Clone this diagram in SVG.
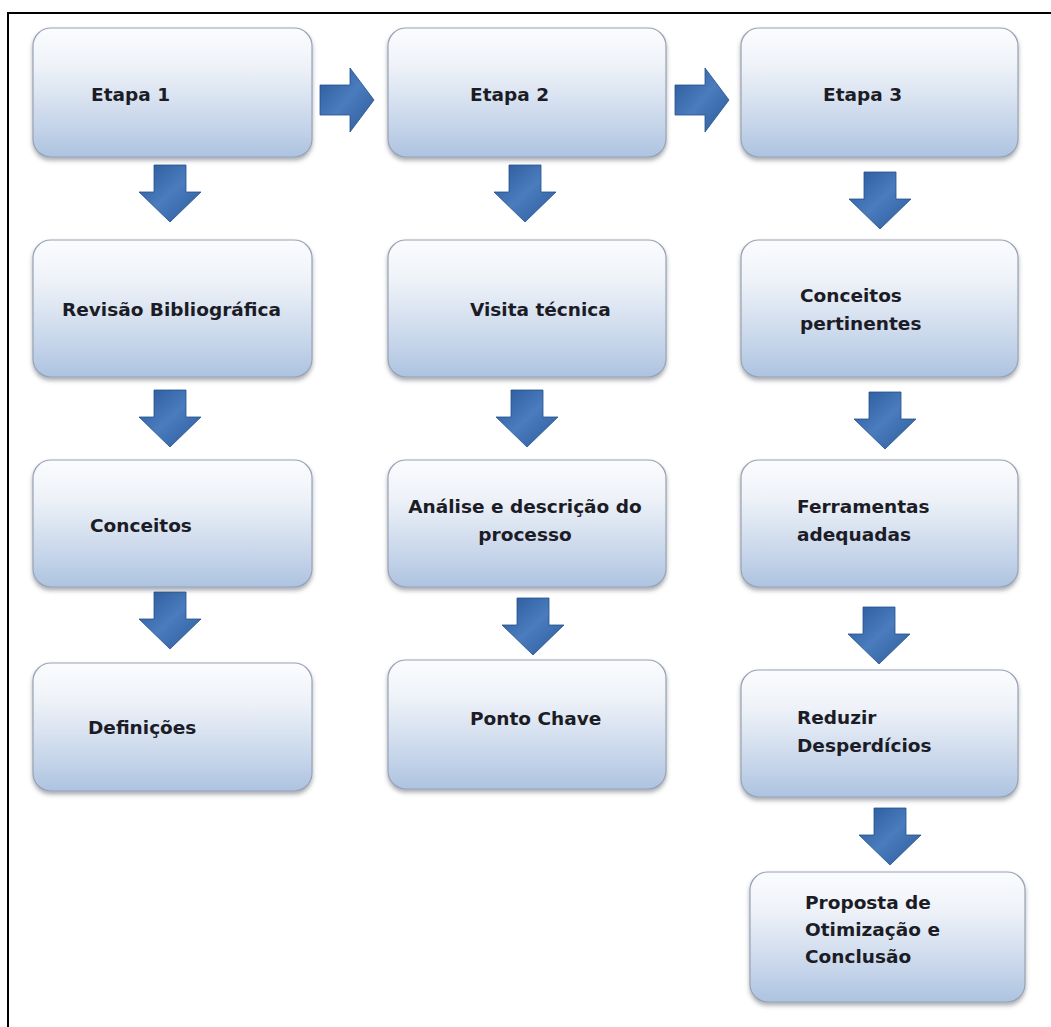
<svg xmlns="http://www.w3.org/2000/svg" width="1051" height="1027" viewBox="0 0 1051 1027">
<defs>
<linearGradient id="boxg" x1="0" y1="0" x2="0" y2="1">
<stop offset="0" stop-color="#fbfcfe"/>
<stop offset="0.3" stop-color="#eef2f8"/>
<stop offset="0.75" stop-color="#c6d5ea"/>
<stop offset="1" stop-color="#adc3e0"/>
</linearGradient>
<linearGradient id="arrg" x1="0" y1="0" x2="1" y2="1">
<stop offset="0" stop-color="#2a5898"/>
<stop offset="0.5" stop-color="#4a7cbe"/>
<stop offset="1" stop-color="#2c5a98"/>
</linearGradient>
<filter id="sh" x="-10%" y="-10%" width="120%" height="130%">
<feDropShadow dx="0" dy="3" stdDeviation="2" flood-color="#404858" flood-opacity="0.45"/>
</filter>
<path id="down" d="M-16 0 H16 V27 H31 L0 57 L-31 27 H-16 Z"/>
<path id="right" d="M0 -15 H30 V-32 L54 0 L30 32 V15 H0 Z"/>
</defs>
<style>
.box{fill:url(#boxg);stroke:#98a2b4;stroke-width:1.2;filter:url(#sh)}
.arr{fill:url(#arrg);stroke:#24508c;stroke-width:0.8}
text{font-family:"DejaVu Sans","Liberation Sans",sans-serif;font-weight:bold;font-size:18.5px;fill:#1c1c26}
.frame{fill:none;stroke:#000;stroke-width:2}
</style>
<rect width="1051" height="1027" fill="#fff"/>
<path class="frame" d="M8 1027 V13 H1051"/>

<g id="connectors">
<use href="#right" class="arr" x="320" y="100"/>
<use href="#right" class="arr" x="675" y="100"/>
<use href="#down" class="arr" x="170" y="165"/>
<use href="#down" class="arr" x="170" y="390"/>
<use href="#down" class="arr" x="170" y="592"/>
<use href="#down" class="arr" x="525" y="165"/>
<use href="#down" class="arr" x="527" y="390"/>
<use href="#down" class="arr" x="533" y="598"/>
<use href="#down" class="arr" x="880" y="172"/>
<use href="#down" class="arr" x="885" y="392"/>
<use href="#down" class="arr" x="879" y="607"/>
<use href="#down" class="arr" x="890" y="808"/>
</g>

<g id="etapa1"><rect class="box" x="33" y="28" width="279" height="129" rx="18"/><text x="91" y="101">Etapa 1</text></g>
<g id="etapa2"><rect class="box" x="388" y="28" width="278" height="129" rx="18"/><text x="470" y="101">Etapa 2</text></g>
<g id="etapa3"><rect class="box" x="741" y="28" width="277" height="129" rx="18"/><text x="823" y="101">Etapa 3</text></g>

<g id="revisao"><rect class="box" x="33" y="240" width="279" height="137" rx="18"/><text x="62" y="316">Revisão Bibliográfica</text></g>
<g id="visita"><rect class="box" x="388" y="240" width="278" height="137" rx="18"/><text x="470" y="316">Visita técnica</text></g>
<g id="conceitos-pert"><rect class="box" x="741" y="240" width="277" height="137" rx="18"/><text x="800" y="302">Conceitos</text><text x="800" y="330">pertinentes</text></g>

<g id="conceitos"><rect class="box" x="33" y="460" width="279" height="127" rx="18"/><text x="90" y="532">Conceitos</text></g>
<g id="analise"><rect class="box" x="388" y="460" width="278" height="127" rx="18"/><text x="525" y="513" text-anchor="middle">Análise e descrição do</text><text x="525" y="541" text-anchor="middle">processo</text></g>
<g id="ferramentas"><rect class="box" x="741" y="460" width="277" height="127" rx="18"/><text x="797" y="513">Ferramentas</text><text x="797" y="541">adequadas</text></g>

<g id="definicoes"><rect class="box" x="33" y="663" width="279" height="128" rx="18"/><text x="88" y="734">Definições</text></g>
<g id="ponto"><rect class="box" x="388" y="660" width="278" height="129" rx="18"/><text x="470" y="725">Ponto Chave</text></g>
<g id="reduzir"><rect class="box" x="741" y="670" width="277" height="127" rx="18"/><text x="797" y="724">Reduzir</text><text x="797" y="752">Desperdícios</text></g>

<g id="proposta"><rect class="box" x="750" y="872" width="275" height="130" rx="18"/><text x="805" y="909">Proposta de</text><text x="805" y="936">Otimização e</text><text x="805" y="963">Conclusão</text></g>
</svg>
